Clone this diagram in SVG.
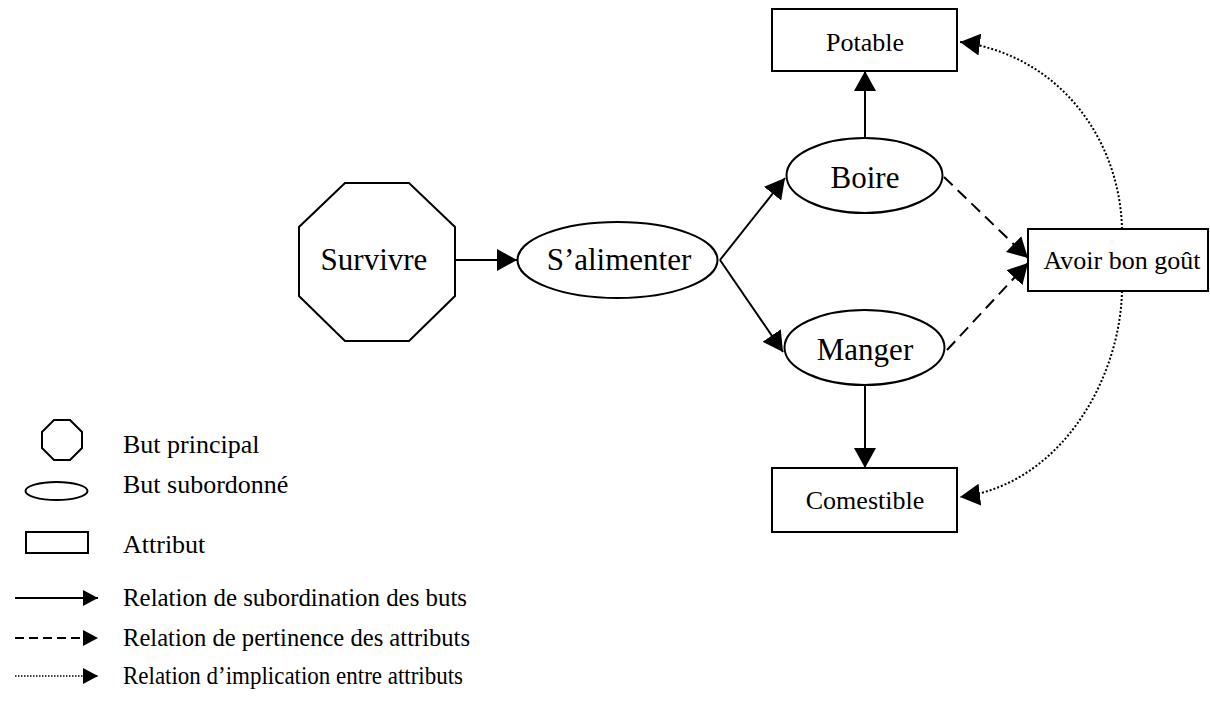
<svg xmlns="http://www.w3.org/2000/svg" width="1210" height="715" viewBox="0 0 1210 715">
  <defs>
    <marker id="head" viewBox="0 0 20 22" refX="20" refY="11" markerUnits="userSpaceOnUse" markerWidth="20" markerHeight="22" orient="auto">
      <path d="M0,0 L20,11 L0,22 z" fill="#000"/>
    </marker>
    <marker id="headSmall" viewBox="0 0 15 16" refX="15" refY="8" markerUnits="userSpaceOnUse" markerWidth="15" markerHeight="16" orient="auto">
      <path d="M0,0 L15,8 L0,16 z" fill="#000"/>
    </marker>
    <style>
      .shape { fill: #fff; stroke: #000; stroke-width: 2; }
      .solid { fill: none; stroke: #000; stroke-width: 2; marker-end: url(#head); }
      .dash { fill: none; stroke: #000; stroke-width: 2; stroke-dasharray: 12 7; marker-end: url(#head); }
      .dot { fill: none; stroke: #000; stroke-width: 2; stroke-dasharray: 2 2; marker-end: url(#head); }
      .big { font-family: "Liberation Serif", "Times New Roman", serif; font-size: 31px; fill: #000; text-anchor: middle; }
      .attr { font-family: "Liberation Serif", "Times New Roman", serif; font-size: 26px; fill: #000; text-anchor: middle; }
      .legend { font-family: "Liberation Serif", "Times New Roman", serif; font-size: 26px; fill: #000; }
      .rel { font-family: "Liberation Serif", "Times New Roman", serif; font-size: 25px; fill: #000; }
    </style>
  </defs>

  <!-- connectors -->
  <g id="connectors">
    <line class="solid" x1="455" y1="260" x2="517" y2="260"/>
    <line class="solid" x1="720" y1="260" x2="785" y2="178"/>
    <line class="solid" x1="720" y1="260" x2="783" y2="352"/>
    <line class="solid" x1="865" y1="138" x2="865" y2="71"/>
    <line class="solid" x1="865" y1="385" x2="865" y2="468"/>
    <line class="dash" x1="944" y1="177" x2="1028" y2="258"/>
    <line class="dash" x1="947" y1="350" x2="1028" y2="263"/>
    <path class="dot" d="M1122,229 C1120,140 1060,55 960,42"/>
    <path class="dot" d="M1122,291 C1120,380 1060,485 960,497"/>
  </g>

  <!-- main goal -->
  <g id="survivre">
    <polygon class="shape" points="345,183 409,183 455,227 455,296 409,341 345,341 299,296 299,227"/>
    <text class="big" x="374" y="270">Survivre</text>
  </g>

  <!-- sub-goals -->
  <g id="salimenter">
    <ellipse class="shape" cx="617.5" cy="260" rx="100" ry="38"/>
    <text class="big" x="619" y="270">S’alimenter</text>
  </g>
  <g id="boire">
    <ellipse class="shape" cx="864.5" cy="175.5" rx="78" ry="37.5"/>
    <text class="big" x="865" y="188">Boire</text>
  </g>
  <g id="manger">
    <ellipse class="shape" cx="864.5" cy="347.5" rx="80" ry="37.5"/>
    <text class="big" x="865" y="360">Manger</text>
  </g>

  <!-- attributes -->
  <g id="potable">
    <rect class="shape" x="772" y="9" width="185" height="62"/>
    <text class="attr" x="865" y="51">Potable</text>
  </g>
  <g id="avoir-bon-gout">
    <rect class="shape" x="1028" y="229" width="180" height="62"/>
    <text class="attr" x="1122" y="269">Avoir bon goût</text>
  </g>
  <g id="comestible">
    <rect class="shape" x="772" y="468" width="185" height="64"/>
    <text class="attr" x="865" y="509">Comestible</text>
  </g>

  <!-- legend -->
  <g id="legend">
    <polygon class="shape" points="54,420 70,420 82,432 82,448 70,460 54,460 42,448 42,432"/>
    <text class="legend" x="123" y="453">But principal</text>
    <ellipse class="shape" cx="56.5" cy="491" rx="31" ry="9"/>
    <text class="legend" x="123" y="493">But subordonné</text>
    <rect class="shape" x="26" y="532" width="62" height="21"/>
    <text class="legend" x="123" y="553">Attribut</text>
    <line x1="15" y1="598" x2="98" y2="598" stroke="#000" stroke-width="2" marker-end="url(#headSmall)"/>
    <text class="rel" x="123" y="606" textLength="344" lengthAdjust="spacingAndGlyphs">Relation de subordination des buts</text>
    <line x1="15" y1="638" x2="98" y2="638" stroke="#000" stroke-width="2" stroke-dasharray="9 5" marker-end="url(#headSmall)"/>
    <text class="rel" x="123" y="646" textLength="347" lengthAdjust="spacingAndGlyphs">Relation de pertinence des attributs</text>
    <line x1="15" y1="676" x2="98" y2="676" stroke="#000" stroke-width="1.5" stroke-dasharray="1.5 1.5" marker-end="url(#headSmall)"/>
    <text class="rel" x="123" y="684" textLength="340" lengthAdjust="spacingAndGlyphs">Relation d’implication entre attributs</text>
  </g>
</svg>
